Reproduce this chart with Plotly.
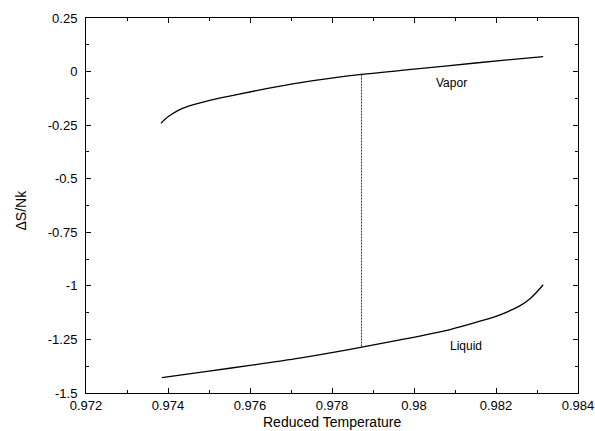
import plotly.graph_objects as go

# Vapor branch
vapor_t = [0.97383, 0.97392, 0.97401, 0.97425, 0.97450, 0.97490, 0.97531, 0.97571,
           0.97640, 0.97720, 0.97844, 0.98000, 0.98150, 0.98315]
vapor_s = [-0.241, -0.224, -0.210, -0.181, -0.161, -0.140, -0.122, -0.106,
           -0.080, -0.053, -0.019, 0.011, 0.040, 0.070]

# Liquid branch
liquid_t = [0.97385, 0.97500, 0.97600, 0.97720, 0.97844, 0.97966, 0.98088, 0.98161,
            0.98210, 0.98259, 0.98283, 0.98299, 0.98315]
liquid_s = [-1.428, -1.398, -1.371, -1.337, -1.296, -1.252, -1.204, -1.165,
            -1.135, -1.092, -1.060, -1.030, -0.995]

# Coexistence (dotted) line
coex_t = [0.97872, 0.97872]
coex_s = [-0.014, -1.286]

x_ticks = [0.972, 0.974, 0.976, 0.978, 0.980, 0.982, 0.984]
x_ticktext = ["0.972", "0.974", "0.976", "0.978", "0.98", "0.982", "0.984"]
y_ticks = [0.25, 0, -0.25, -0.5, -0.75, -1, -1.25, -1.5]
y_ticktext = ["0.25", "0", "-0.25", "-0.5", "-0.75", "-1", "-1.25", "-1.5"]

labels = [("Vapor", 0.98092, -0.055), ("Liquid", 0.98128, -1.28)]

FONT = "Liberation Sans, Arial, Helvetica"

fig = go.Figure()
fig.add_trace(go.Scatter(x=vapor_t, y=vapor_s, mode="lines",
                         line=dict(color="black", width=1.3, shape="spline", smoothing=0.8)))
fig.add_trace(go.Scatter(x=liquid_t, y=liquid_s, mode="lines",
                         line=dict(color="black", width=1.3, shape="spline", smoothing=0.8)))
fig.add_trace(go.Scatter(x=coex_t, y=coex_s, mode="lines",
                         line=dict(color="#333333", width=1, dash="2px,1px")))

for txt, xv, yv in labels:
    fig.add_annotation(x=xv, y=yv, text=txt, showarrow=False,
                       font=dict(family=FONT, size=12, color="black"))

# axis titles as annotations for precise placement
fig.add_annotation(x=0.5, y=0, xref="paper", yref="paper", text="Reduced Temperature",
                   showarrow=False, xanchor="center", yanchor="middle", yshift=-29,
                   font=dict(family=FONT, size=14, color="black"))
fig.add_annotation(x=0, y=0.5, xref="paper", yref="paper", text="ΔS/Nk", textangle=-90,
                   showarrow=False, xanchor="center", yanchor="middle", xshift=-66, yshift=-5,
                   font=dict(family=FONT, size=14, color="black"))

axis_common = dict(showgrid=False, zeroline=False, showline=True, linecolor="black",
                   linewidth=1, mirror="allticks", ticks="inside", ticklen=5,
                   tickcolor="black", automargin=False,
                   tickfont=dict(family=FONT, size=13, color="black"))

fig.update_xaxes(range=[0.972, 0.984], tickvals=x_ticks, ticktext=x_ticktext,
                 minor=dict(ticks="inside", ticklen=3, dtick=0.001, tickcolor="black"),
                 **axis_common)
fig.update_yaxes(range=[-1.5, 0.25], tickvals=y_ticks, ticktext=y_ticktext,
                 ticklabelstandoff=5,
                 minor=dict(ticks="inside", ticklen=3, dtick=0.125, tick0=0, tickcolor="black"),
                 **axis_common)

fig.update_layout(width=595, height=431, showlegend=False,
                  plot_bgcolor="white", paper_bgcolor="white",
                  margin=dict(l=86, r=17, t=18, b=38))

fig.write_html("out.html", config={"displayModeBar": False},
               post_script="document.body.style.margin='0';document.body.style.padding='0';"
                           "document.body.style.overflow='hidden';")
